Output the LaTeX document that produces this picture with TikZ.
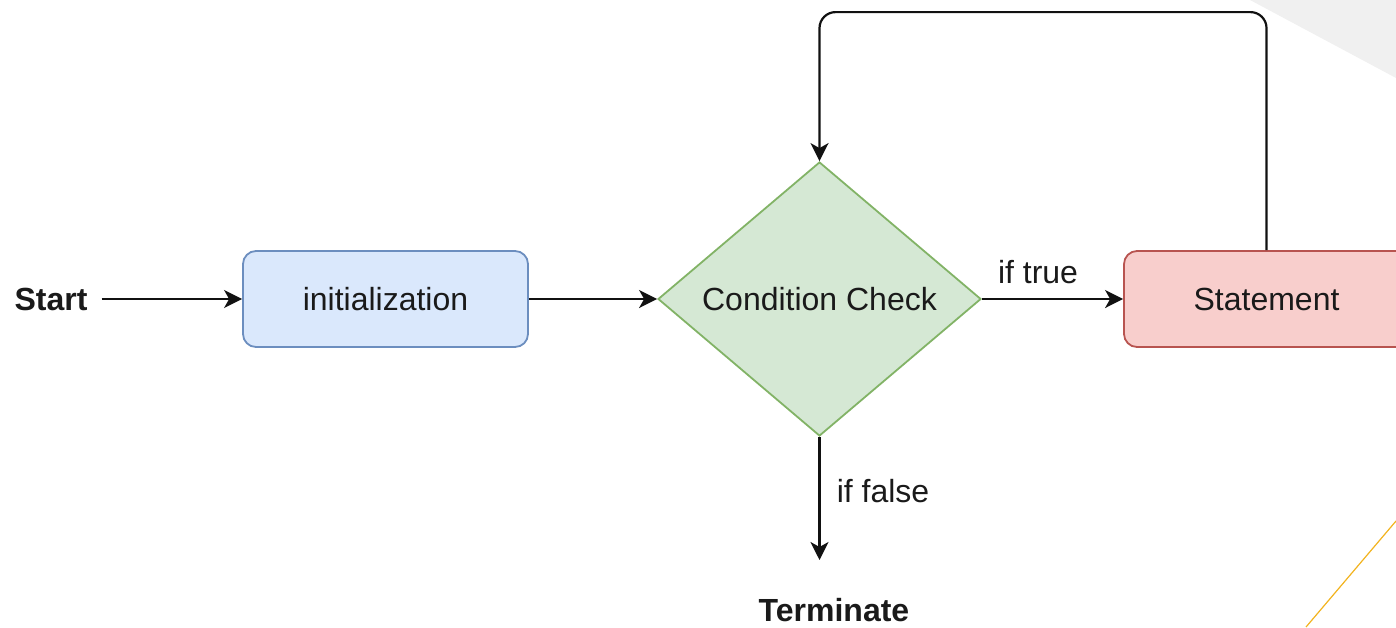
\documentclass[tikz,border=0pt]{standalone}
\usepackage{fontspec}
\setmainfont{Liberation Sans}
\usetikzlibrary{shapes.geometric,arrows.meta}

\definecolor{initfill}{HTML}{DAE8FC}
\definecolor{initline}{HTML}{6C8EBF}
\definecolor{condfill}{HTML}{D5E8D4}
\definecolor{condline}{HTML}{82B366}
\definecolor{stmtfill}{HTML}{F8CECC}
\definecolor{stmtline}{HTML}{B85450}
\definecolor{inkline}{HTML}{111111}
\definecolor{inktext}{HTML}{1A1A1A}
\definecolor{cornergray}{HTML}{F0F0F0}
\definecolor{accentgold}{HTML}{F2B31E}

\tikzset{
  label text/.style={font=\fontsize{32}{36}\selectfont, text=inktext, inner sep=0pt},
  bold text/.style={label text, font=\fontsize{32}{36}\selectfont\bfseries},
  procbox/.style={rectangle, rounded corners=13pt, line width=1.8pt,
    minimum width=285pt, minimum height=96pt, inner sep=0pt,
    font=\fontsize{32}{36}\selectfont, text=inktext},
  decision/.style={diamond, aspect=1.18, line width=1.8pt, inner sep=0pt,
    minimum width=323pt, minimum height=274pt,
    font=\fontsize{32}{36}\selectfont, text=inktext,
    draw=condline, fill=condfill},
  flow/.style={draw=inkline, line width=2.2pt,
    -{Stealth[length=18pt,width=18pt,inset=5pt]}},
}

\begin{document}
\begin{tikzpicture}[x=1pt,y=-1pt]
  \useasboundingbox (0,0) rectangle (1396,627);
  \clip (0,0) rectangle (1396,627);

  % background decorations
  \fill[cornergray] (1250,0) -- (1396,0) -- (1396,78) -- cycle;
  \draw[accentgold, line width=1.2pt] (1396,521) -- (1306,627);

  % nodes
  \node[bold text, inner xsep=14pt] (start) at (51,299) {Start};
  \node[procbox, draw=initline, fill=initfill] (init) at (385.5,299) {initialization};
  \node[decision] (cond) at (819.5,299) {Condition Check};
  \node[procbox, draw=stmtline, fill=stmtfill] (stmt) at (1266.5,299) {Statement};
  \coordinate (falseend) at (819.5,560);
  \node[bold text] (term) at (834,610) {Terminate};

  % connectors
  \draw[flow] (start.east) -- (init.west);
  \draw[flow] (init.east) -- (cond.west);
  \draw[flow] (cond.east) -- (stmt.west);
  \draw[flow, rounded corners=16pt] (stmt.north) -- ++(0,-238) -| (cond.north);
  \draw[flow] (cond.south) -- (falseend);

  % edge labels
  \node[label text] (truelbl) at (1038,272) {if true};
  \node[label text] (falselbl) at (883,491) {if false};
\end{tikzpicture}
\end{document}
